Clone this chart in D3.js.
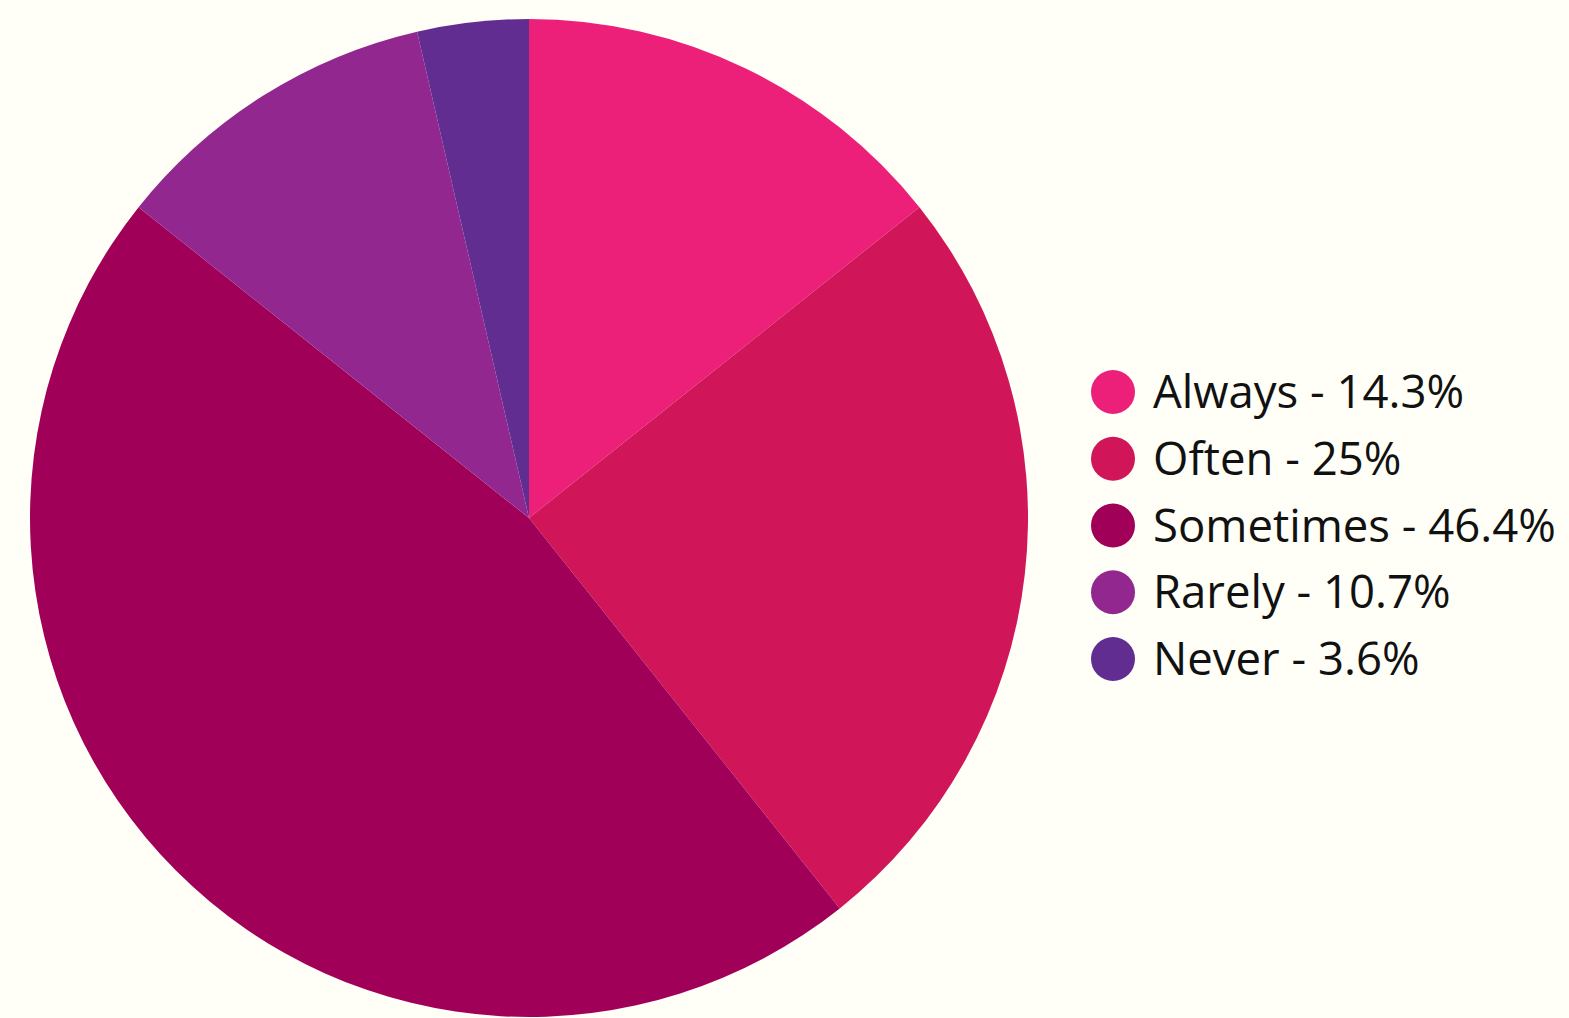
<!DOCTYPE html>
<html>
<head>
<meta charset="utf-8">
<script src="https://cdn.jsdelivr.net/npm/d3@7"></script>
<style>
  html, body { margin: 0; padding: 0; background: #fffef7; }
  svg { display: block; }
</style>
</head>
<body>
<div class="chart"></div>
<script>
// data
var categories = ['Always', 'Often', 'Sometimes', 'Rarely', 'Never'];
var percents = [14.3, 25, 46.4, 10.7, 3.6];
var colors = ['#ec1f79', '#d01558', '#a10058', '#932790', '#622d91'];

var width = 1569;
var height = 1018;
var cx = 529, cy = 518, radius = 499;

var svg = d3.select('.chart')
  .append('svg')
    .attr('width', width)
    .attr('height', height);

svg.append('rect')
  .attr('width', width)
  .attr('height', height)
  .style('fill', '#fffef7');

var data = categories.map(function (c, i) {
  return { name: c, value: percents[i], color: colors[i] };
});

/**
 * Pie
 */
var pie = d3.pie()
  .sort(null)
  .value(function (d) { return d.value; });

var arc = d3.arc()
  .innerRadius(0)
  .outerRadius(radius);

var g = svg.append('g')
  .attr('transform', `translate(${cx}, ${cy})`);

g.selectAll('path')
  .data(pie(data))
  .enter()
  .append('path')
    .attr('d', arc)
    .style('fill', function (d) { return d.data.color; });

/**
 * Legend
 */
var yLegend = d3.scalePoint()
  .domain(categories)
  .range([392, 659]);

var legend = svg.append('g')
  .attr('transform', 'translate(1113, 0)');

var item = legend.selectAll('g')
  .data(data)
  .enter()
  .append('g')
    .attr('transform', function (d) { return `translate(0, ${yLegend(d.name)})`; });

item.append('circle')
  .attr('r', 22)
  .style('fill', function (d) { return d.color; });

item.append('text')
  .attr('x', 40)
  .attr('y', 16)
  .style('font-family', '"Open Sans", sans-serif')
  .style('font-size', '45.5px')
  .style('fill', '#111')
  .text(function (d) { return d.name + ' - ' + d.value + '%'; });
</script>
</body>
</html>
